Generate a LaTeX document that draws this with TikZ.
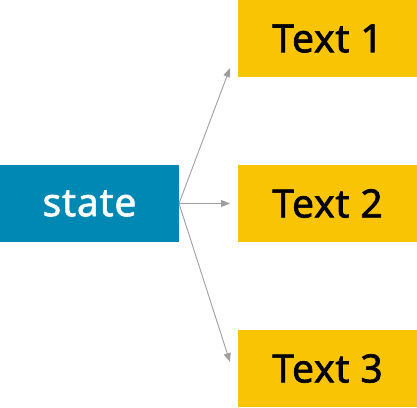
\documentclass[tikz,border=0pt]{standalone}
\usepackage{fontspec}
\setmainfont{Noto Sans}
\newfontfamily\boxfont{Noto Sans}[FakeBold=1.6,LetterSpace=2]
\usetikzlibrary{arrows.meta}
\definecolor{stblue}{HTML}{0088B5}
\definecolor{txyellow}{HTML}{F9C404}
\definecolor{argray}{HTML}{9E9E9E}
\begin{document}
\begin{tikzpicture}[x=1pt,y=-1pt,
  box/.style={minimum width=179pt,minimum height=77pt,inner sep=0pt,outer sep=0pt,anchor=north west,font=\boxfont\fontsize{39}{41}\selectfont},
  statebox/.style={box,fill=stblue,text=white},
  textbox/.style={box,fill=txyellow,text=black},
  conn/.style={draw=argray,line width=0.9pt,-{Triangle[length=9pt,width=7pt]}}]
\useasboundingbox (0,0) rectangle (417,407);
\node[statebox] (s) at (0,165) {state};
\node[textbox] (t1) at (238,0) {Text 1};
\node[textbox] (t2) at (238,165) {Text 2};
\node[textbox] (t3) at (238,330) {Text 3};
\coordinate (e1) at (230,68);
\coordinate (e3) at (230,362);
\draw[conn] (s.east) -- (e1);
\draw[conn] (s.east) -- ([xshift=-8pt]t2.west);
\draw[conn] (s.east) -- (e3);
\end{tikzpicture}
\end{document}
